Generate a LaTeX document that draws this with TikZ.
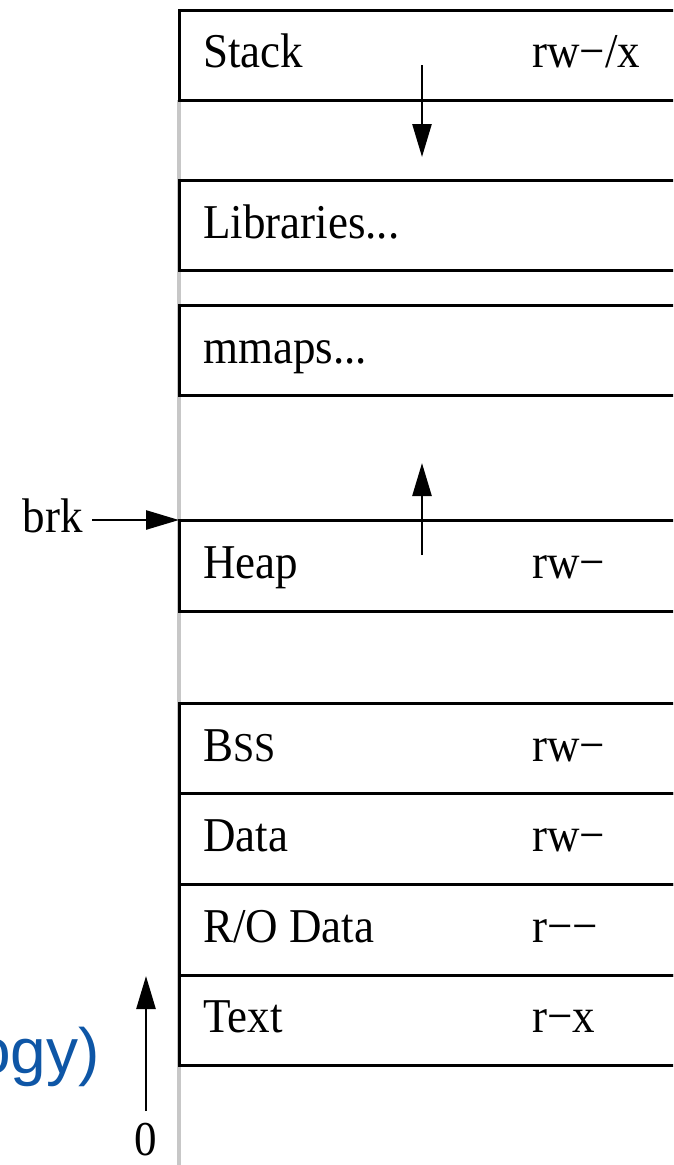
\documentclass[tikz,border=0pt]{standalone}
\usepackage{fontspec}
\setmainfont{Liberation Serif}
\newfontfamily\captionsans{Liberation Sans}
\usetikzlibrary{arrows.meta}
\definecolor{capblue}{RGB}{14,86,166}
\newcommand{\tall}[1]{\scalebox{1}[1.08]{#1}}
\tikzset{
  seg/.style={draw=black, line width=3pt, anchor=north west,
    minimum width=560pt, inner sep=0pt, outer sep=0pt},
  segname/.style={anchor=base west, inner sep=0pt,
    font=\fontsize{45}{50}\selectfont},
  perm/.style={anchor=base west, inner sep=0pt,
    font=\fontsize{45}{50}\selectfont},
  growth/.style={line width=2.6pt, -{Triangle[length=33pt,width=19pt]}},
}
\begin{document}
\begin{tikzpicture}[x=1pt,y=-1pt]
\useasboundingbox (0,0) rectangle (673,1165);
\fill[white] (0,0) rectangle (673,1165);
\clip (0,0) rectangle (673,1165);

% address-space axis
\draw[line width=3.2pt, black!22] (179,100) -- (179,1165);

% segments, top of memory first
\node[seg, minimum height=90pt] (stack)  at (179,10)  {};
\node[seg, minimum height=90pt] (libs)   at (179,180) {};
\node[seg, minimum height=90pt] (mmaps)  at (179,305) {};
\node[seg, minimum height=91pt] (heap)   at (179,520) {};
\node[seg, minimum height=90pt] (bss)    at (179,703) {};
\node[seg, minimum height=91pt] (data)   at (179,793) {};
\node[seg, minimum height=91pt] (rodata) at (179,884) {};
\node[seg, minimum height=90pt] (text)   at (179,975) {};

% segment names
\node[segname] (nstack)  at (203,67)  {\tall{Stack}};
\node[segname] (nlibs)   at (203,238) {\tall{Libraries...}};
\node[segname] (nmmaps)  at (203,363) {\tall{mmaps...}};
\node[segname] (nheap)   at (203,578) {\tall{Heap}};
\node[segname] (nbss)    at (203,761) {\tall{B{\fontsize{38}{44}\selectfont SS}}};
\node[segname] (ndata)   at (203,851) {\tall{Data}};
\node[segname] (nrodata) at (203,942) {\tall{R/O Data}};
\node[segname] (ntext)   at (203,1032) {\tall{Text}};

% permissions
\node[perm] (pstack)  at (532,67)  {\tall{rw−/x}};
\node[perm] (pheap)   at (532,578) {\tall{rw−}};
\node[perm] (pbss)    at (532,761) {\tall{rw−}};
\node[perm] (pdata)   at (532,851) {\tall{rw−}};
\node[perm] (prodata) at (532,942) {\tall{r−−}};
\node[perm] (ptext)   at (532,1032) {\tall{r−x}};

% growth directions
\coordinate (stackfrom) at (422,65);
\coordinate (stackto)   at (422,157);
\draw[growth] (stackfrom) -- (stackto);
\coordinate (heapfrom) at (422,555);
\coordinate (heapto)   at (422,463);
\draw[growth] (heapfrom) -- (heapto);

% program break
\node[anchor=base east, inner sep=0pt, font=\fontsize{45}{50}\selectfont]
  (brk) at (83,532) {\tall{brk}};
\coordinate (brkfrom) at (92,520);
\coordinate (brkat) at (179,520);
\draw[growth] (brkfrom) -- (brkat);

% addresses increase upward
\node[anchor=base, inner sep=0pt, font=\fontsize{45}{50}\selectfont]
  (zero) at (146,1155) {\tall{0}};
\coordinate (upfrom) at (146,1111);
\coordinate (upto)   at (146,976);
\draw[growth] (upfrom) -- (upto);

% trailing caption text
\node[anchor=base east, inner sep=0pt, text=capblue,
  font=\captionsans\fontsize{64}{70}\selectfont] (cap) at (100,1073) {ogy)};
\end{tikzpicture}
\end{document}
